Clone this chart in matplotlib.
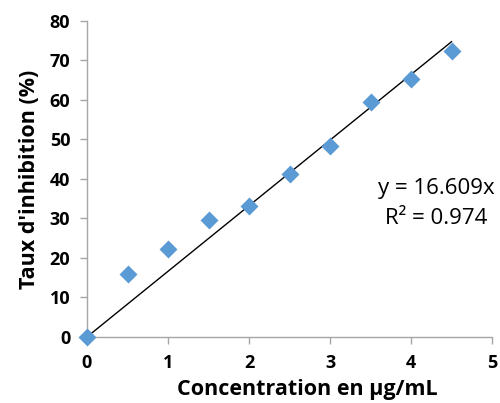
import numpy as np
import matplotlib.pyplot as plt

# concentration (µg/mL) vs inhibition rate (%)
conc = [0, 0.5, 1, 1.5, 2, 2.5, 3, 3.5, 4, 4.5]
inhib = [0, 15.9, 22.3, 29.6, 33.2, 41.3, 48.4, 59.5, 65.3, 72.4]
slope = 16.609
r2 = 0.974

plt.rcParams['font.family'] = ['Open Sans', 'DejaVu Sans']

fig = plt.figure(figsize=(5.0, 4.03), dpi=100)
ax = fig.add_axes([0.174, 0.164, 0.81, 0.784])

# linear trend forced through origin
xs = np.array([0, max(conc)])
ax.plot(xs, slope * xs, color='black', lw=1, zorder=2)
ax.plot(conc, inhib, 'D', color='#5B9BD5', ms=9.3, mec='none', zorder=3, clip_on=False)

ax.set_xlim(0, 5)
ax.set_ylim(0, 80)
ax.set_xticks(range(0, 6))
ax.set_yticks(range(0, 81, 10))

for s in ['top', 'right']:
    ax.spines[s].set_visible(False)
for s in ['left', 'bottom']:
    ax.spines[s].set_color('#A6A6A6')
    ax.spines[s].set_linewidth(1)
ax.tick_params(direction='out', length=5, color='#A6A6A6', width=1,
               labelsize=13, pad=7)
for lab in ax.get_xticklabels() + ax.get_yticklabels():
    lab.set_fontweight('bold')

ax.set_xlabel('Concentration en µg/mL', fontsize=15.5, fontweight='bold', labelpad=5)
ax.xaxis.label.set_x(0.545)
ax.set_ylabel("Taux d'inhibition (%)", fontsize=15.5, fontweight='bold', labelpad=7)

ax.text(4.31, 37.7, 'y = %.3fx' % slope, fontsize=16, ha='center', va='center')
ax.text(4.31, 30.1, 'R² = %.3f' % r2, fontsize=16, ha='center', va='center')

fig.savefig('out.png', dpi=100)
